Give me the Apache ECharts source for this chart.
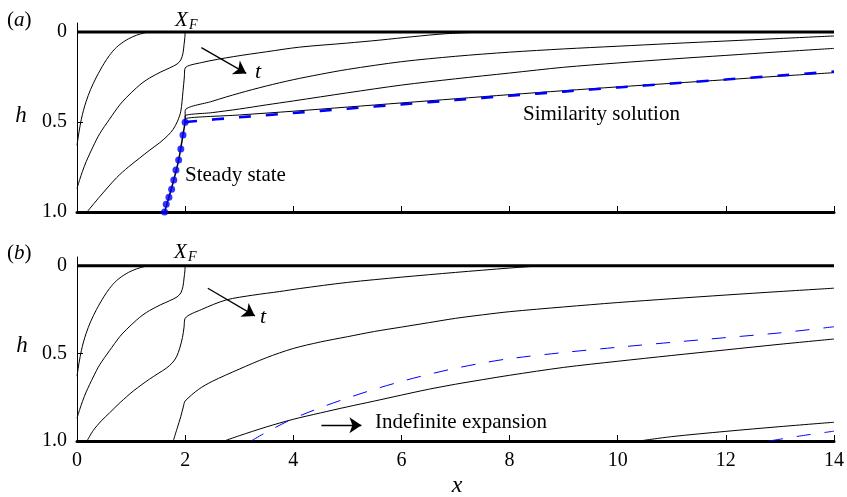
<!DOCTYPE html>
<html><head><meta charset="utf-8">
<script src="https://cdn.jsdelivr.net/npm/echarts@6/dist/echarts.min.js"></script>
<style>html,body{margin:0;padding:0;background:#fff}#c{width:847px;height:497px}</style>
</head><body><div id="c"></div>
<script>
// ---------- data (x, h) ----------
const xTickStep = 2;
const yTickValues = [0, 0.5, 1.0];

// curves shared by both panels
const curve1 = [[0,0.63],[0.04,0.55],[0.08,0.485],[0.12,0.435],[0.17,0.385],[0.25,0.32],[0.36,0.25],[0.5,0.175],[0.6,0.13],[0.73,0.085],[0.91,0.045],[1.1,0.018],[1.31,0]];
const curve2 = [[0,0.87],[0.05,0.82],[0.1,0.775],[0.17,0.72],[0.3,0.635],[0.42,0.565],[0.6,0.485],[0.79,0.405],[0.91,0.365],[1.1,0.31],[1.22,0.28],[1.345,0.255],[1.55,0.222],[1.71,0.2],[1.85,0.178],[1.92,0.155],[1.96,0.118],[1.98,0.07],[1.995,0.03],[2,0]];

// panel (a)
const curve3a = [[0.185,1],[0.42,0.915],[0.73,0.81],[0.95,0.75],[1.16,0.70],[1.35,0.655],[1.53,0.615],[1.68,0.575],[1.78,0.54],[1.86,0.495],[1.92,0.44],[1.96,0.33],[1.985,0.25],[2,0.2],[2.3,0.17],[2.89,0.137],[3.5,0.11],[4.12,0.084],[4.98,0.062],[5.6,0.045],[6.21,0.026],[6.8,0.01],[7.5,0]];
const curve4a = [[2,0.5],[2,0.437],[2.5,0.385],[3,0.34],[3.5,0.3],[4,0.265],[4.5,0.235],[5,0.208],[6,0.165],[7,0.135],[8,0.112],[9,0.094],[10,0.079],[11,0.064],[12,0.05],[13,0.036],[14,0.022]];
const curve5a = [[2,0.5],[2,0.467],[2.5,0.448],[3,0.428],[3.5,0.405],[4,0.383],[5,0.338],[6,0.295],[7,0.26],[8,0.228],[9,0.196],[10,0.172],[11,0.15],[12,0.13],[13,0.11],[14,0.091]];
const curve6a = [[2,0.5],[2,0.483],[3,0.461],[4,0.44],[5,0.417],[6,0.394],[7,0.371],[8,0.348],[9,0.326],[10,0.305],[11,0.285],[12,0.265],[13,0.245],[14,0.226]];
const steadyLine = [[1.62,1],[1.7,0.918],[1.79,0.822],[1.88,0.711],[1.96,0.572],[2,0.5]];
const steadyDots = [[1.62,1.0],[1.65,0.957],[1.70,0.918],[1.75,0.874],[1.79,0.822],[1.83,0.767],[1.88,0.711],[1.92,0.65],[1.96,0.572],[2.0,0.502]];
const similarity = [[2,0.5],[3,0.474],[4,0.45],[5,0.426],[6,0.402],[7,0.378],[8,0.354],[9,0.331],[10,0.308],[11,0.286],[12,0.264],[13,0.242],[14,0.22]];

// panel (b)
const curve3b = [[0.185,1],[0.3,0.94],[0.45,0.885],[0.6,0.84],[0.8,0.78],[1.04,0.715],[1.2,0.678],[1.34,0.647],[1.5,0.615],[1.65,0.585],[1.76,0.555],[1.84,0.52],[1.9,0.47],[1.95,0.41],[1.98,0.35],[2,0.30],[2.3,0.25],[2.76,0.195],[3.25,0.168],[3.75,0.147],[4.12,0.13],[5,0.095],[6,0.065],[7,0.038],[8,0.013],[8.6,0]];
const curve4b = [[1.78,1],[1.85,0.93],[1.92,0.86],[1.97,0.8],[2,0.772],[2.25,0.705],[2.5,0.66],[3,0.59],[3.5,0.525],[4,0.472],[4.5,0.435],[5,0.405],[5.5,0.375],[6,0.35],[6.5,0.325],[7,0.3],[7.5,0.28],[8,0.262],[9,0.235],[10,0.21],[11,0.188],[12,0.167],[13,0.147],[14,0.128]];
const curve5b = [[2.72,1],[3,0.97],[3.5,0.92],[4,0.876],[4.5,0.84],[5,0.805],[5.5,0.772],[6,0.738],[6.5,0.705],[7,0.676],[7.5,0.65],[8,0.625],[9,0.58],[10,0.545],[11,0.512],[12,0.48],[13,0.448],[14,0.418]];
const curve6b = [[10.4,1],[11,0.975],[12,0.945],[13,0.918],[14,0.893]];
const expansion1 = [[3.22,1],[3.5,0.95],[4,0.872],[4.5,0.81],[5,0.755],[5.5,0.705],[6,0.66],[6.5,0.62],[7,0.585],[7.5,0.555],[8,0.53],[9,0.495],[10,0.465],[11,0.437],[12,0.41],[13,0.383],[14,0.348]];
const expansion2 = [[12.8,1],[13.4,0.97],[14,0.944]];

// annotation arrows (data coordinates)
const arrowTa = [[2.3,0.087],[3.13,0.23]];
const arrowTb = [[2.42,0.128],[3.29,0.286]];
const arrowExp = [[4.52,0.91],[5.26,0.91]];

// ---------- chart ----------
const SERIF = '"Liberation Serif","Times New Roman",serif';
const chart = echarts.init(document.getElementById('c'), null, {renderer:'canvas'});

function xAxisCfg(g, showLabels){
  return {type:'value', gridIndex:g, min:0, max:14, interval:xTickStep,
    axisLine:{show:true, onZero:false, lineStyle:{color:'#000', width:3}},
    axisTick:{show:true, inside:true, length:6, lineStyle:{color:'#000', width:1}},
    axisLabel:{show:showLabels, color:'#000', fontFamily:SERIF, fontSize:20, margin:10},
    splitLine:{show:false}};
}
function yAxisCfg(g){
  return {type:'value', gridIndex:g, inverse:true, min:-0.05, max:1,
    axisLine:{show:true, onZero:false, lineStyle:{color:'#000', width:1}},
    axisTick:{show:true, inside:true, length:6, customValues:yTickValues, lineStyle:{color:'#000', width:1}},
    axisLabel:{show:true, customValues:yTickValues, color:'#000', fontFamily:SERIF, fontSize:20, margin:10,
      formatter: v => (Math.abs(v) < 1e-9 ? '0' : Number(v).toFixed(1))},
    splitLine:{show:false}};
}
function line(data, g, opts){
  opts = opts || {};
  return Object.assign({type:'line', xAxisIndex:g, yAxisIndex:g, data:data, symbol:'none', showSymbol:false,
    animation:false, silent:true, emphasis:{disabled:true}, clip:false,
    smooth: opts.smooth === undefined ? 0.3 : opts.smooth,
    lineStyle:{color:opts.color||'#000', width:opts.width||1, type:opts.dash||'solid'}, z:opts.z||2}, opts.extra||{});
}
function arrowML(list, width){
  return {markLine:{silent:true, animation:false, symbol:['none','arrow'], symbolSize:12,
    label:{show:false}, emphasis:{disabled:true},
    lineStyle:{color:'#000', width:width, type:'solid'},
    data:list.map(a => [{coord:a[0]},{coord:a[1]}])}};
}

const series = [
  // panel (a)
  line([[0,0],[14,0]], 0, {width:3, smooth:false, extra:arrowML([arrowTa], 1.3)}),
  line(curve1, 0), line(curve2, 0), line(curve3a, 0),
  line(curve4a, 0), line(curve5a, 0), line(curve6a, 0),
  line(steadyLine, 0, {width:1.5}),
  line(similarity, 0, {color:'#0000ff', width:2.6, dash:[12,15], z:4}),
  {type:'scatter', xAxisIndex:0, yAxisIndex:0, data:steadyDots, symbol:'circle', symbolSize:7,
    itemStyle:{color:'#0000ff'}, animation:false, silent:true, z:5, clip:false},
  // panel (b)
  line([[0,0],[14,0]], 1, {width:3, smooth:false, extra:arrowML([arrowTb, arrowExp], 1.3)}),
  line(curve1, 1), line(curve2, 1), line(curve3b, 1),
  line(curve4b, 1), line(curve5b, 1), line(curve6b, 1),
  line(expansion1, 1, {color:'#0000ff', width:1, dash:[14,14], z:4}),
  line(expansion2, 1, {color:'#0000ff', width:1, dash:[14,14], z:4})
];

function txt(text, x, y, size, italic, align){
  return {type:'text', x:x, y:y, silent:true, z:10,
    style:{text:text, fill:'#000', font:(italic?'italic ':'')+size+'px '+SERIF,
      textAlign:align||'left', textVerticalAlign:'middle'}};
}
function panelLabel(letter, x, y){
  return {type:'text', x:x, y:y, silent:true, z:10,
    style:{text:'{n|(}{i|'+letter+'}{n|)}', textVerticalAlign:'middle', textAlign:'left',
      rich:{n:{fontFamily:SERIF, fontSize:21, fill:'#000'}, i:{fontFamily:SERIF, fontSize:21, fontStyle:'italic', fill:'#000'}}}};
}

const graphics = [
  panelLabel('a', 7, 20), panelLabel('b', 7, 253),
  txt('X', 175, 20, 21, true), txt('F', 189, 25, 14, true),
  txt('X', 174, 252, 21, true), txt('F', 188, 257, 14, true),
  txt('h', 21, 116, 23, true, 'center'), txt('h', 22, 346, 23, true, 'center'),
  txt('t', 255, 72, 22, true), txt('t', 260, 317, 22, true),
  txt('Steady state', 185, 175, 21, false),
  txt('Similarity solution', 523, 114, 21, false),
  txt('Indefinite expansion', 375, 422, 21, false),
  txt('x', 457, 486, 24, true, 'center')
];

chart.setOption({
  animation:false,
  backgroundColor:'#fff',
  grid:[
    {left:77, right:13, top:23, height:189},
    {left:77, right:13, top:257, height:184}
  ],
  xAxis:[xAxisCfg(0,false), xAxisCfg(1,true)],
  yAxis:[yAxisCfg(0), yAxisCfg(1)],
  series:series,
  graphic:graphics
});
</script></body></html>
